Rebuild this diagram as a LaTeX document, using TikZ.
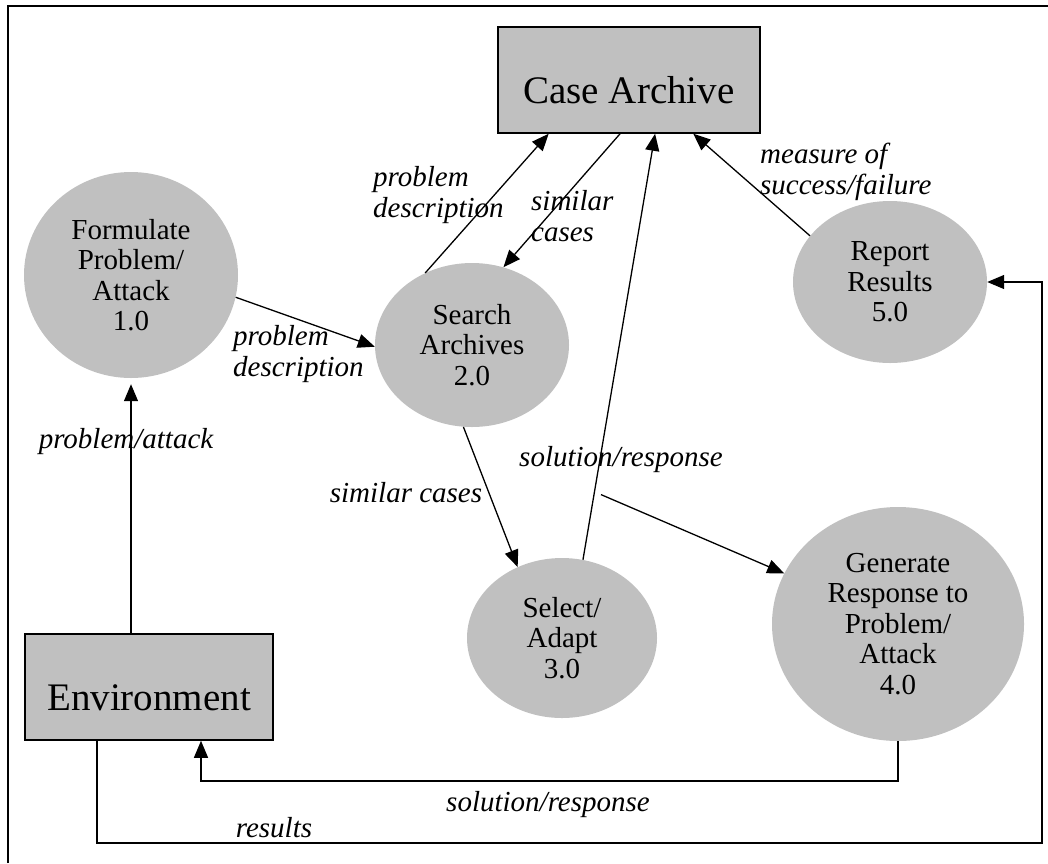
\documentclass[tikz,border=0pt]{standalone}
\usepackage{fontspec}
\setmainfont{Liberation Serif}
\usetikzlibrary{shapes.geometric,arrows.meta,calc}
\definecolor{procgray}{RGB}{192,192,192}
\begin{document}
\begin{tikzpicture}[x=1pt,y=-1pt,
  proc/.style={ellipse,fill=procgray,inner sep=0pt,align=center,font=\fontsize{29}{30.5}\selectfont},
  store/.style={rectangle,fill=procgray,draw=black,line width=1.5pt,inner sep=0pt,text height=47pt,text depth=0pt,font=\fontsize{39}{45}\selectfont},
  flow/.style={line width=1.3pt,-{Triangle[length=17pt,width=14pt]}},
  lbl/.style={font=\fontsize{29}{30.5}\selectfont\itshape,inner sep=0pt,align=left}]
\useasboundingbox (0,0) rectangle (1048,863);
\draw[line width=2pt] (8,863) -- (8,6) -- (1048,6);

\node[store,minimum width=262pt,minimum height=106pt] (case) at (629,80) {Case Archive};
\node[store,minimum width=248pt,minimum height=106pt] (env) at (149,687) {Environment};

\node[proc,minimum width=214pt,minimum height=206pt] (form) at (131,275) {Formulate\\Problem/\\Attack\\1.0};
\node[proc,minimum width=194pt,minimum height=164pt] (search) at (472,345) {Search\\Archives\\2.0};
\node[proc,minimum width=194pt,minimum height=162pt] (report) at (890,282) {Report\\Results\\5.0};
\node[proc,minimum width=190pt,minimum height=160pt] (select) at (562,638) {Select/\\Adapt\\3.0};
\node[proc,minimum width=252pt,minimum height=234pt] (gen) at (898,624) {Generate\\Response to\\Problem/\\Attack\\4.0};

\coordinate (c1) at (201,781);
\coordinate (c2) at (97,843);
\coordinate (c3) at (1042,843);

\draw[flow,shorten >=6pt] (env.north -| form.center) -- (form.south);
\draw[flow] (form.-12) -- (search.181);
\draw[flow] (search.123) -- ($(case.south west)!0.195!(case.south east)$);
\draw[flow] ($(case.south west)!0.466!(case.south east)$) -- (search.68);
\draw[flow] (select.75) -- coordinate[pos=0.153] (fork) ($(case.south west)!0.599!(case.south east)$);
\draw[flow] ([xshift=7pt]fork) -- (gen.156);
\draw[flow] (report.150) -- ($(case.south west)!0.744!(case.south east)$);
\draw[flow] (search.-96) -- (select.122);
\draw[flow] (gen.south) |- (c1) -- (env.south -| c1);
\draw[flow] (env.south -| c2) -- (c2) -- (c3) |- (report.east);

\node[lbl,anchor=west] (l1) at (233,354) {problem\\description};
\node[lbl,anchor=west] (l2) at (373,195) {problem\\description};
\node[lbl,anchor=west] (l3) at (531,216) {similar\\cases};
\node[lbl,anchor=west] (l4) at (760,172) {measure of\\success/failure};
\node[lbl] (l5) at (406,493) {similar cases};
\node[lbl] (l6) at (621,460) {solution/response};
\node[lbl] (l7) at (548,805) {solution/response};
\node[lbl] (l8) at (274,828) {results};
\node[lbl] (l9) at (126,442) {problem/attack};
\end{tikzpicture}
\end{document}
